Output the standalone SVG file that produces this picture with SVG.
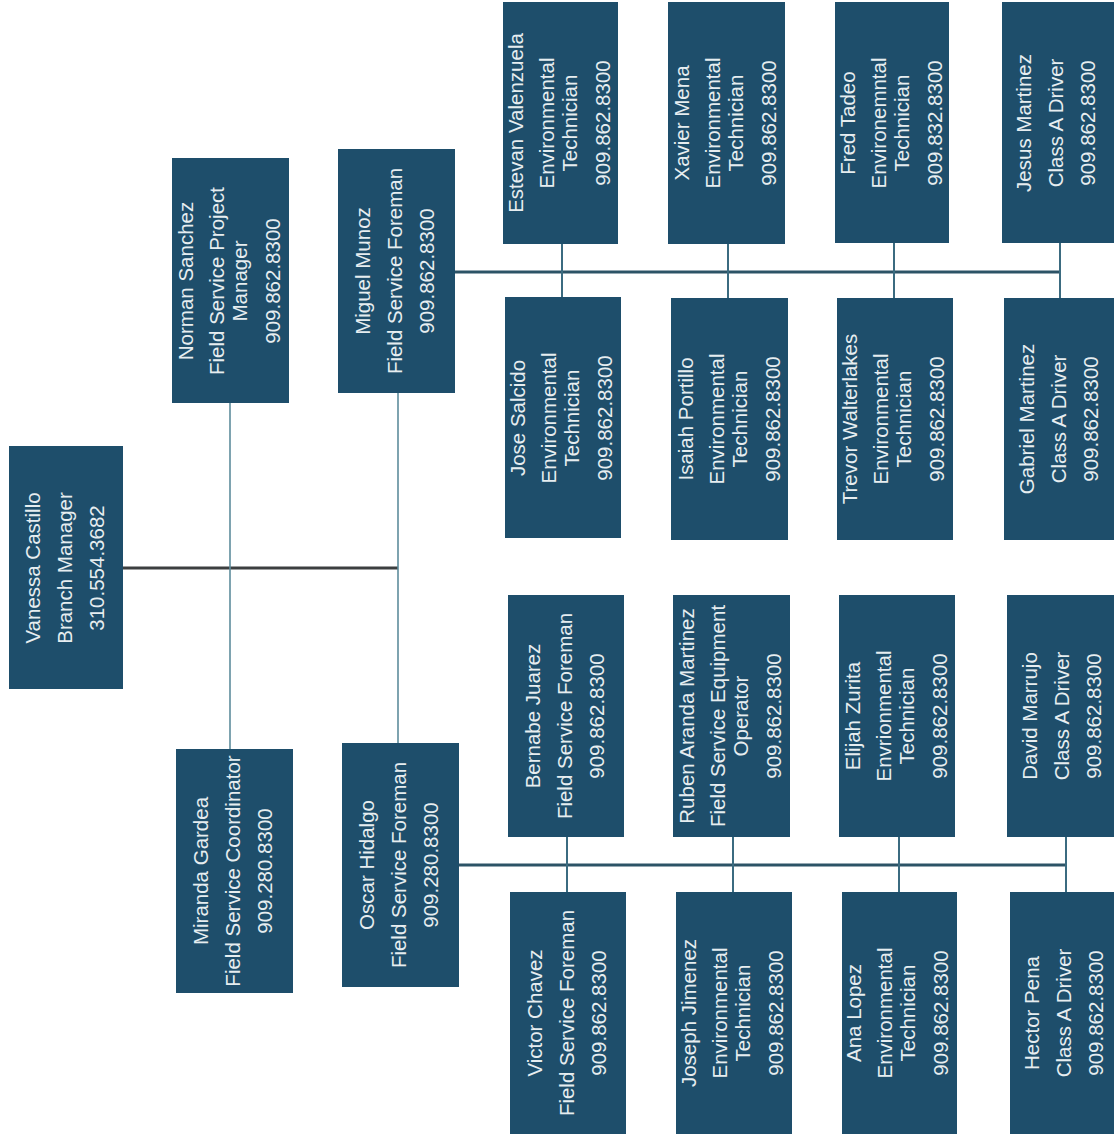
<svg xmlns="http://www.w3.org/2000/svg" width="1114" height="1138" viewBox="0 0 1114 1138">
<style>
.box{fill:#1e4e6b}
.t{font-family:"Liberation Sans",Arial,sans-serif;font-size:20.5px;fill:#e6edf0;text-anchor:middle}
.bus{stroke:#2c5366;stroke-width:3;fill:none}
.br{stroke:#3b6b80;stroke-width:2;fill:none}
.main{stroke:#3c3f40;stroke-width:3;fill:none}
.vt{stroke:#5d8c9c;stroke-width:1.6;fill:none}
</style>
<rect width="1114" height="1138" fill="#ffffff"/>
<g id="connectors">
<line class="main" x1="123" y1="568" x2="398" y2="568"/>
<line class="vt" x1="230" y1="403" x2="230" y2="749"/>
<line class="vt" x1="398" y1="393" x2="398" y2="743"/>
<line class="bus" x1="455" y1="272" x2="1060" y2="272"/>
<line class="br" x1="562" y1="244" x2="562" y2="297"/>
<line class="br" x1="728" y1="244" x2="728" y2="298"/>
<line class="br" x1="894" y1="243" x2="894" y2="298"/>
<line class="br" x1="1060" y1="243" x2="1060" y2="298"/>
<line class="bus" x1="459" y1="865" x2="1066" y2="865"/>
<line class="br" x1="567" y1="837" x2="567" y2="892"/>
<line class="br" x1="733" y1="837" x2="733" y2="892"/>
<line class="br" x1="899" y1="837" x2="899" y2="892"/>
<line class="br" x1="1066" y1="837" x2="1066" y2="892"/>
</g>
<g id="vanessa"><rect class="box" x="9" y="446" width="114" height="243"/>
<text class="t" transform="translate(65,568) rotate(-90)"><tspan x="0" y="-25">Vanessa Castillo</tspan><tspan x="0" y="7">Branch Manager</tspan><tspan x="0" y="39">310.554.3682</tspan></text></g>
<g id="norman"><rect class="box" x="172" y="158" width="117" height="245"/>
<text class="t" transform="translate(229,281) rotate(-90)"><tspan x="0" y="-36.5">Norman Sanchez</tspan><tspan x="0" y="-5.5">Field Service Project</tspan><tspan x="0" y="17.5">Manager</tspan><tspan x="0" y="50.5">909.862.8300</tspan></text></g>
<g id="miguel"><rect class="box" x="338" y="149" width="117" height="244"/>
<text class="t" transform="translate(395,271) rotate(-90)"><tspan x="0" y="-25">Miguel Munoz</tspan><tspan x="0" y="7">Field Service Foreman</tspan><tspan x="0" y="39">909.862.8300</tspan></text></g>
<g id="miranda"><rect class="box" x="176" y="749" width="117" height="244"/>
<text class="t" transform="translate(233,871) rotate(-90)"><tspan x="0" y="-25">Miranda Gardea</tspan><tspan x="0" y="7">Field Service Coordinator</tspan><tspan x="0" y="39">909.280.8300</tspan></text></g>
<g id="oscar"><rect class="box" x="342" y="743" width="117" height="244"/>
<text class="t" transform="translate(399,865) rotate(-90)"><tspan x="0" y="-25">Oscar Hidalgo</tspan><tspan x="0" y="7">Field Service Foreman</tspan><tspan x="0" y="39">909.280.8300</tspan></text></g>
<g id="estevan"><rect class="box" x="503" y="2" width="115" height="242"/>
<text class="t" transform="translate(559.5,123) rotate(-90)"><tspan x="0" y="-36.5">Estevan Valenzuela</tspan><tspan x="0" y="-5.5">Environmental</tspan><tspan x="0" y="17.5">Technician</tspan><tspan x="0" y="50.5">909.862.8300</tspan></text></g>
<g id="xavier"><rect class="box" x="668" y="2" width="117" height="242"/>
<text class="t" transform="translate(725.5,123) rotate(-90)"><tspan x="0" y="-36.5">Xavier Mena</tspan><tspan x="0" y="-5.5">Environmental</tspan><tspan x="0" y="17.5">Technician</tspan><tspan x="0" y="50.5">909.862.8300</tspan></text></g>
<g id="fred"><rect class="box" x="835" y="2" width="114" height="241"/>
<text class="t" transform="translate(891,123) rotate(-90)"><tspan x="0" y="-36.5">Fred Tadeo</tspan><tspan x="0" y="-5.5">Environemntal</tspan><tspan x="0" y="17.5">Technician</tspan><tspan x="0" y="50.5">909.832.8300</tspan></text></g>
<g id="jesus"><rect class="box" x="1002" y="2" width="120" height="241"/>
<text class="t" transform="translate(1055.5,123) rotate(-90)"><tspan x="0" y="-25">Jesus Martinez</tspan><tspan x="0" y="7">Class A Driver</tspan><tspan x="0" y="39">909.862.8300</tspan></text></g>
<g id="jose"><rect class="box" x="505" y="297" width="116" height="241"/>
<text class="t" transform="translate(561.5,418) rotate(-90)"><tspan x="0" y="-36.5">Jose Salcido</tspan><tspan x="0" y="-5.5">Environmental</tspan><tspan x="0" y="17.5">Technician</tspan><tspan x="0" y="50.5">909.862.8300</tspan></text></g>
<g id="isaiah"><rect class="box" x="671" y="298" width="117" height="242"/>
<text class="t" transform="translate(729.5,419) rotate(-90)"><tspan x="0" y="-36.5">Isaiah Portillo</tspan><tspan x="0" y="-5.5">Environmental</tspan><tspan x="0" y="17.5">Technician</tspan><tspan x="0" y="50.5">909.862.8300</tspan></text></g>
<g id="trevor"><rect class="box" x="837" y="298" width="116" height="242"/>
<text class="t" transform="translate(893.5,419) rotate(-90)"><tspan x="0" y="-36.5">Trevor Walterlakes</tspan><tspan x="0" y="-5.5">Environmental</tspan><tspan x="0" y="17.5">Technician</tspan><tspan x="0" y="50.5">909.862.8300</tspan></text></g>
<g id="gabriel"><rect class="box" x="1004" y="298" width="120" height="242"/>
<text class="t" transform="translate(1058.5,419) rotate(-90)"><tspan x="0" y="-25">Gabriel Martinez</tspan><tspan x="0" y="7">Class A Driver</tspan><tspan x="0" y="39">909.862.8300</tspan></text></g>
<g id="bernabe"><rect class="box" x="508" y="595" width="116" height="242"/>
<text class="t" transform="translate(565,716) rotate(-90)"><tspan x="0" y="-25">Bernabe Juarez</tspan><tspan x="0" y="7">Field Service Foreman</tspan><tspan x="0" y="39">909.862.8300</tspan></text></g>
<g id="ruben"><rect class="box" x="673" y="595" width="117" height="242"/>
<text class="t" transform="translate(730.5,716) rotate(-90)"><tspan x="0" y="-36.5">Ruben Aranda Martinez</tspan><tspan x="0" y="-5.5">Field Service Equipment</tspan><tspan x="0" y="17.5">Operator</tspan><tspan x="0" y="50.5">909.862.8300</tspan></text></g>
<g id="elijah"><rect class="box" x="839" y="595" width="116" height="242"/>
<text class="t" transform="translate(896.5,716) rotate(-90)"><tspan x="0" y="-36.5">Elijah Zurita</tspan><tspan x="0" y="-5.5">Envrionmental</tspan><tspan x="0" y="17.5">Technician</tspan><tspan x="0" y="50.5">909.862.8300</tspan></text></g>
<g id="david"><rect class="box" x="1007" y="595" width="120" height="242"/>
<text class="t" transform="translate(1061.5,716) rotate(-90)"><tspan x="0" y="-25">David Marrujo</tspan><tspan x="0" y="7">Class A Driver</tspan><tspan x="0" y="39">909.862.8300</tspan></text></g>
<g id="victor"><rect class="box" x="510" y="892" width="116" height="242"/>
<text class="t" transform="translate(566.5,1013) rotate(-90)"><tspan x="0" y="-25">Victor Chavez</tspan><tspan x="0" y="7">Field Service Foreman</tspan><tspan x="0" y="39">909.862.8300</tspan></text></g>
<g id="joseph"><rect class="box" x="676" y="892" width="116" height="242"/>
<text class="t" transform="translate(732.5,1013) rotate(-90)"><tspan x="0" y="-36.5">Joseph Jimenez</tspan><tspan x="0" y="-5.5">Environmental</tspan><tspan x="0" y="17.5">Technician</tspan><tspan x="0" y="50.5">909.862.8300</tspan></text></g>
<g id="ana"><rect class="box" x="842" y="892" width="115" height="242"/>
<text class="t" transform="translate(897.5,1013) rotate(-90)"><tspan x="0" y="-36.5">Ana Lopez</tspan><tspan x="0" y="-5.5">Environmental</tspan><tspan x="0" y="17.5">Technician</tspan><tspan x="0" y="50.5">909.862.8300</tspan></text></g>
<g id="hector"><rect class="box" x="1010" y="892" width="120" height="242"/>
<text class="t" transform="translate(1064,1013) rotate(-90)"><tspan x="0" y="-25">Hector Pena</tspan><tspan x="0" y="7">Class A Driver</tspan><tspan x="0" y="39">909.862.8300</tspan></text></g>
</svg>
